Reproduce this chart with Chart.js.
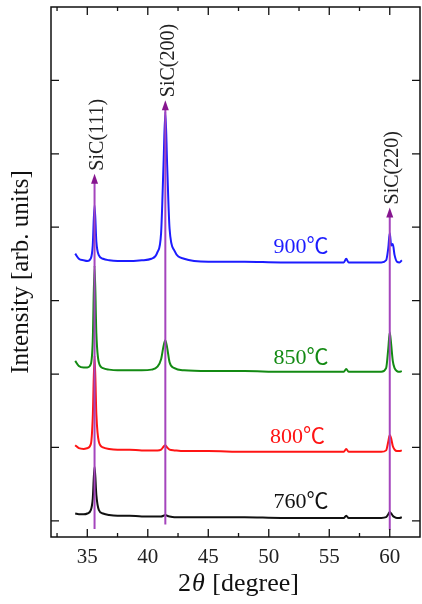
<!DOCTYPE html>
<html>
<head>
<meta charset="utf-8">
<script src="https://cdn.jsdelivr.net/npm/chart.js@4"></script>
<style>
  html, body { margin: 0; padding: 0; background: #fff; }
  #wrap { width: 422px; height: 604px; }
</style>
</head>
<body>
<div id="wrap"><canvas id="xrd-chart"></canvas></div>
<script>
// 2theta positions (degree)
const twoTheta = [34.0, 34.3, 34.7, 35.0, 35.3, 35.45, 35.6, 35.75, 35.95, 36.3, 36.8, 37.5, 38.5, 39.5,
  40.3, 40.8, 41.1, 41.3, 41.45, 41.6, 41.8, 42.2, 43.0, 45.0, 48.0, 51.0, 54.0, 56.2, 56.4, 56.6,
  58.0, 59.3, 59.7, 59.88, 60.0, 60.12, 60.25, 60.4, 60.6, 60.8, 61.0];

// intensities (arb. units, already stacked)
const int900 = [3.64, 3.57, 3.55, 3.54, 3.58, 3.75, 4.30, 3.80, 3.62, 3.57, 3.55, 3.54, 3.54, 3.55,
  3.57, 3.66, 3.92, 4.85, 5.57, 4.85, 3.98, 3.68, 3.57, 3.53, 3.53, 3.52, 3.52, 3.52, 3.57, 3.52,
  3.52, 3.52, 3.55, 3.72, 3.92, 3.75, 3.77, 3.62, 3.53, 3.52, 3.55];
const int850 = [2.18, 2.11, 2.09, 2.09, 2.14, 2.45, 3.48, 2.55, 2.16, 2.08, 2.06, 2.05, 2.05, 2.05,
  2.06, 2.10, 2.20, 2.38, 2.46, 2.36, 2.16, 2.08, 2.05, 2.04, 2.04, 2.03, 2.03, 2.03, 2.07, 2.03,
  2.03, 2.03, 2.08, 2.35, 2.57, 2.40, 2.18, 2.08, 2.04, 2.03, 2.04];
const int800 = [1.03, 0.99, 0.98, 0.99, 1.05, 1.40, 2.25, 1.45, 1.08, 1.00, 0.98, 0.97, 0.97, 0.96,
  0.96, 0.96, 0.97, 1.01, 1.03, 1.00, 0.97, 0.96, 0.95, 0.95, 0.94, 0.94, 0.94, 0.94, 0.98, 0.94,
  0.94, 0.94, 0.96, 1.08, 1.17, 1.12, 1.02, 0.97, 0.95, 0.95, 0.96];
const int760 = [0.10, 0.09, 0.09, 0.10, 0.15, 0.30, 0.74, 0.35, 0.15, 0.10, 0.08, 0.07, 0.07, 0.06,
  0.06, 0.06, 0.06, 0.07, 0.08, 0.07, 0.06, 0.05, 0.05, 0.05, 0.05, 0.04, 0.04, 0.04, 0.07, 0.04,
  0.04, 0.04, 0.05, 0.09, 0.12, 0.10, 0.07, 0.05, 0.04, 0.04, 0.05];

const tempLabels = ['900℃', '850℃', '800℃', '760℃'];
const tempColors = ['#1c1cff', '#138a13', '#ff1414', '#111111'];
const tempX = [50.4, 50.4, 50.1, 50.4];
const tempY = [3.73, 2.22, 1.14, 0.26];

const peakNames = ['SiC(111)', 'SiC(200)', 'SiC(220)'];
const peakPos = [35.6, 41.45, 60.0];
const arrowTip = [4.73, 5.73, 4.27];
const arrowBase = [-0.11, -0.05, -0.12];

const xTickLabels = [35, 40, 45, 50, 55, 60];
const xMinorTicks = [32.5, 37.5, 42.5, 47.5, 52.5, 57.5];
const yTicks = [0, 1, 2, 3, 4, 5, 6];

const serif = '"Liberation Serif", "Noto Sans CJK JP", serif';

function series(ys) {
    return twoTheta.map((x, i) => ({ x: x, y: ys[i] }));
}

// frame, inward ticks, peak arrows and text labels
const decorations = {
    id: 'decorations',
    afterDatasetsDraw(chart) {
        const ctx = chart.ctx;
        const xs = chart.scales.x;
        const ys = chart.scales.y;
        const a = chart.chartArea;
        ctx.save();

        // peak marker lines with arrowheads
        peakPos.forEach((p, i) => {
            const px = xs.getPixelForValue(p);
            const top = ys.getPixelForValue(arrowTip[i]);
            const bot = ys.getPixelForValue(arrowBase[i]);
            ctx.strokeStyle = '#a545bd';
            ctx.lineWidth = 2;
            ctx.beginPath();
            ctx.moveTo(px, bot);
            ctx.lineTo(px, top + 8);
            ctx.stroke();
            ctx.fillStyle = '#86168f';
            ctx.beginPath();
            ctx.moveTo(px, top);
            ctx.lineTo(px - 3.5, top + 10);
            ctx.lineTo(px + 3.5, top + 10);
            ctx.closePath();
            ctx.fill();

            ctx.save();
            ctx.translate(px + 3, top - 3);
            ctx.rotate(-Math.PI / 2);
            ctx.fillStyle = '#222';
            ctx.font = '20px ' + serif;
            ctx.textAlign = 'left';
            ctx.textBaseline = 'middle';
            ctx.fillText(peakNames[i], 0, 0);
            ctx.restore();
        });

        // temperature labels
        ctx.font = '22px ' + serif;
        ctx.textAlign = 'left';
        ctx.textBaseline = 'middle';
        tempLabels.forEach((t, i) => {
            ctx.fillStyle = tempColors[i];
            ctx.fillText(t, xs.getPixelForValue(tempX[i]), ys.getPixelForValue(tempY[i]));
        });

        // frame
        ctx.strokeStyle = '#111';
        ctx.lineWidth = 1.5;
        ctx.strokeRect(a.left, a.top, a.right - a.left, a.bottom - a.top);

        // inward ticks
        ctx.lineWidth = 1.3;
        ctx.beginPath();
        xTickLabels.forEach(v => {
            const px = xs.getPixelForValue(v);
            ctx.moveTo(px, a.bottom); ctx.lineTo(px, a.bottom - 8);
            ctx.moveTo(px, a.top); ctx.lineTo(px, a.top + 8);
        });
        xMinorTicks.forEach(v => {
            const px = xs.getPixelForValue(v);
            ctx.moveTo(px, a.bottom); ctx.lineTo(px, a.bottom - 4);
            ctx.moveTo(px, a.top); ctx.lineTo(px, a.top + 4);
        });
        yTicks.forEach(v => {
            const py = ys.getPixelForValue(v);
            ctx.moveTo(a.left, py); ctx.lineTo(a.left + 8, py);
            ctx.moveTo(a.right, py); ctx.lineTo(a.right - 8, py);
        });
        ctx.stroke();

        // x axis title with italic theta
        const cx = (a.left + a.right) / 2 + 2;
        const ty = 584;
        ctx.fillStyle = '#111';
        ctx.textBaseline = 'middle';
        ctx.textAlign = 'left';
        const p1 = '2', p2 = 'θ', p3 = ' [degree]';
        ctx.font = '26px ' + serif;
        const w1 = ctx.measureText(p1).width;
        const w3 = ctx.measureText(p3).width;
        ctx.font = 'italic 26px ' + serif;
        const w2 = ctx.measureText(p2).width;
        let x0 = cx - (w1 + w2 + w3) / 2;
        ctx.font = '26px ' + serif;
        ctx.fillText(p1, x0, ty);
        ctx.font = 'italic 26px ' + serif;
        ctx.fillText(p2, x0 + w1 + 1, ty);
        ctx.font = '26px ' + serif;
        ctx.fillText(p3, x0 + w1 + w2 + 2, ty);

        ctx.restore();
    }
};

const ctx = document.getElementById('xrd-chart').getContext('2d');
new Chart(ctx, {
    type: 'scatter',
    data: {
        datasets: [
            { label: '900', data: series(int900), borderColor: tempColors[0] },
            { label: '850', data: series(int850), borderColor: tempColors[1] },
            { label: '800', data: series(int800), borderColor: tempColors[2] },
            { label: '760', data: series(int760), borderColor: tempColors[3] }
        ].map(d => Object.assign(d, {
            showLine: true,
            pointRadius: 0,
            borderWidth: 2,
            cubicInterpolationMode: 'monotone',
            fill: false
        }))
    },
    options: {
        responsive: true,
        maintainAspectRatio: false,
        animation: false,
        layout: { padding: { top: 7, right: 2, left: 0, bottom: 0 } },
        plugins: {
            legend: { display: false },
            tooltip: { enabled: false }
        },
        scales: {
            x: {
                type: 'linear',
                min: 32,
                max: 62.5,
                grid: { display: false, drawTicks: false },
                border: { display: false },
                afterBuildTicks: function(scale) {
                    scale.ticks = xTickLabels.map(v => ({ value: v }));
                },
                afterFit: function(scale) { scale.height = 67; },
                ticks: {
                    padding: 8,
                    maxRotation: 0,
                    color: '#222',
                    font: { family: serif, size: 21 }
                }
            },
            y: {
                min: -0.22,
                max: 7,
                grid: { display: false, drawTicks: false },
                border: { display: false },
                afterFit: function(scale) { scale.width = 51; },
                ticks: { display: false },
                title: {
                    display: true,
                    text: 'Intensity [arb. units]',
                    color: '#111',
                    font: { family: serif, size: 25 },
                    padding: { top: 6, bottom: 0 }
                }
            }
        }
    },
    plugins: [decorations]
});
</script>
</body>
</html>
